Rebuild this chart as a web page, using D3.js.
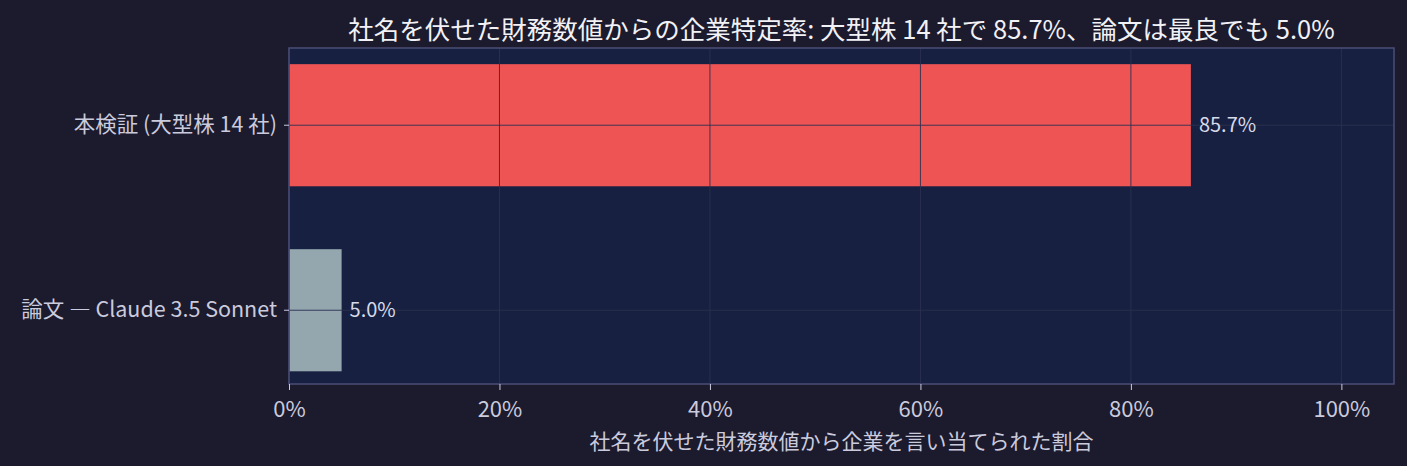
<!DOCTYPE html>
<html>
<head>
<meta charset="utf-8">
<script src="https://cdn.jsdelivr.net/npm/d3@7"></script>
<style>
  body { margin: 0; background: #1c1a2d; }
  text { font-family: "Noto Sans CJK JP", "Noto Sans", sans-serif; }
</style>
</head>
<body>
<script>
// data ************************************************************
var categories = ["本検証 (大型株 14 社)", "論文 ― Claude 3.5 Sonnet"];
var values = [85.7, 5.0];
var barColors = ["#ef5454", "#94a6ae"];
var valueLabels = ["85.7%", "5.0%"];
var xTicks = [0, 20, 40, 60, 80, 100];
var titleText = "社名を伏せた財務数値からの企業特定率: 大型株 14 社で 85.7%、論文は最良でも 5.0%";
var xLabelText = "社名を伏せた財務数値から企業を言い当てられた割合";

// settings ********************************************************
var W = 1407, H = 466;
var plot = { left: 289, right: 1394, top: 48, bottom: 384 };
var textColor = "#cacbdd";

var svg = d3.select("body").append("svg")
    .attr("width", W).attr("height", H);

svg.append("rect").attr("width", W).attr("height", H).attr("fill", "#1c1a2d");

var x = d3.scaleLinear().domain([0, 105]).range([plot.left, plot.right]);
var y = d3.scaleBand().domain(categories)
    .range([plot.top, plot.bottom])
    .paddingInner(0.34).paddingOuter(0.078).align(0.56);

// plot background
svg.append("rect")
    .attr("x", plot.left).attr("y", plot.top)
    .attr("width", plot.right - plot.left).attr("height", plot.bottom - plot.top)
    .attr("fill", "#172040");

// bars
svg.selectAll("rect.bar").data(categories).enter().append("rect")
    .attr("class", "bar")
    .attr("x", x(0))
    .attr("y", d => y(d))
    .attr("width", (d, i) => x(values[i]) - x(0))
    .attr("height", y.bandwidth())
    .attr("fill", (d, i) => barColors[i]);

// grid (drawn above the bars)
var grid = svg.append("g");
grid.selectAll("line.v").data(xTicks).enter().append("line")
    .attr("x1", d => x(d)).attr("x2", d => x(d))
    .attr("y1", plot.top).attr("y2", plot.bottom)
    .attr("stroke", "#2c3150").attr("stroke-opacity", 0.9).attr("stroke-width", 1);
grid.selectAll("line.h").data(categories).enter().append("line")
    .attr("y1", d => y(d) + y.bandwidth() / 2).attr("y2", d => y(d) + y.bandwidth() / 2)
    .attr("x1", plot.left).attr("x2", plot.right)
    .attr("stroke", "#2c3150").attr("stroke-opacity", 0.9).attr("stroke-width", 1);

// value labels
svg.selectAll("text.val").data(categories).enter().append("text")
    .attr("x", (d, i) => x(values[i]) + 8)
    .attr("y", d => y(d) + y.bandwidth() / 2)
    .attr("dy", "0.35em")
    .attr("fill", "#d6daea")
    .attr("font-size", 20)
    .text((d, i) => valueLabels[i]);

// frame
svg.append("rect")
    .attr("x", plot.left).attr("y", plot.top)
    .attr("width", plot.right - plot.left).attr("height", plot.bottom - plot.top)
    .attr("fill", "none").attr("stroke", "#4b4d76").attr("stroke-width", 1.5);

// x axis
var xAxis = svg.append("g")
    .attr("transform", "translate(0," + plot.bottom + ")")
    .call(d3.axisBottom(x).tickValues(xTicks).tickFormat(d => d + "%").tickSize(6).tickPadding(11));
xAxis.select(".domain").remove();
xAxis.selectAll("line").attr("stroke", textColor);
xAxis.selectAll("text").attr("fill", textColor).attr("font-size", 22)
    .style("font-family", "'Noto Sans CJK JP', sans-serif");

// y axis
var yAxis = svg.append("g")
    .attr("transform", "translate(" + plot.left + ",0)")
    .call(d3.axisLeft(y).tickSize(5).tickPadding(7));
yAxis.select(".domain").remove();
yAxis.selectAll("line").attr("stroke", textColor);
yAxis.selectAll("text").attr("fill", textColor).attr("font-size", 21.5)
    .style("font-family", "'Noto Sans CJK JP', sans-serif");

// title + axis label
svg.append("text")
    .attr("x", (plot.left + plot.right) / 2).attr("y", 39)
    .attr("text-anchor", "middle")
    .attr("fill", "#f2f2f6").attr("font-size", 25.5)
    .text(titleText);

svg.append("text")
    .attr("x", (plot.left + plot.right) / 2).attr("y", 449)
    .attr("text-anchor", "middle")
    .attr("fill", textColor).attr("font-size", 21)
    .text(xLabelText);
</script>
</body>
</html>
